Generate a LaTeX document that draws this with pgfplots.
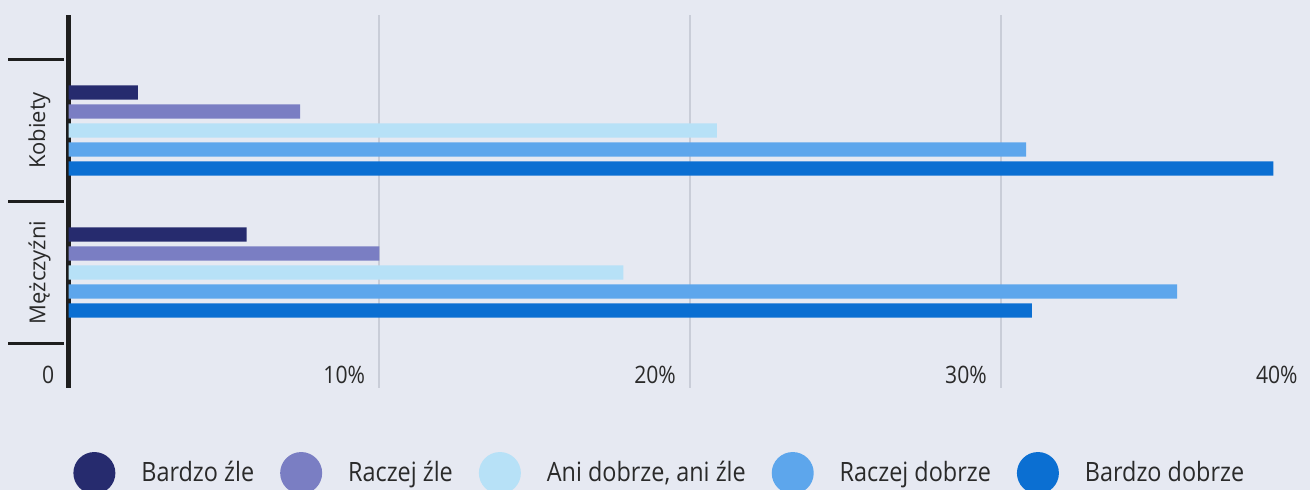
\documentclass[border=0pt]{standalone}
\usepackage{pgfplots}
\pgfplotsset{compat=1.18}
\usepackage{fontspec}
\setmainfont{Open Sans}[FakeStretch=0.88]
\newfontfamily\rotfont{Open Sans}
\definecolor{bg}{HTML}{E6E9F2}
\definecolor{c1}{HTML}{262B6E}
\definecolor{c2}{HTML}{7A7EC3}
\definecolor{c3}{HTML}{B7E1F7}
\definecolor{c4}{HTML}{5DA6EC}
\definecolor{c5}{HTML}{0B6FD2}
\definecolor{gridc}{HTML}{C9CDD8}
\definecolor{axisc}{HTML}{1E1E1E}
\definecolor{textc}{HTML}{2A2A2A}
\begin{document}
\begin{tikzpicture}
\fill[bg] (0,0) rectangle (655pt,245pt);
\path[use as bounding box] (0,0) rectangle (655pt,245pt);
\begin{axis}[
  at={(34.25pt,51pt)}, anchor=south west,
  scale only axis, width=621.75pt, height=186.5pt,
  xmin=0, xmax=40, ymin=-0.813, ymax=1.813,
  xbar, bar width=0.1,
  axis y line*=left, axis x line*=bottom,
  x axis line style={draw=none},
  y axis line style={-, draw=axisc, line width=2.4pt},
  xtick={0,10,20,30}, xticklabels={0,10\%,20\%,30\%},
  extra x ticks={40}, extra x tick labels={40\%},
  extra x tick style={grid=none},
  xtick style={draw=none},
  xmajorgrids, major grid style={gridc, line width=0.9pt},
  xticklabel style={anchor=east, inner sep=0pt, xshift=-7pt, yshift=34pt, font=\fontsize{12}{14}\selectfont, text=textc},
  tick align=outside, major tick length=27.5pt,
  major tick style={line width=1.1pt},
  ytick={-0.5,0.5,1.5}, yticklabels={},
  ytick style={draw=axisc, line width=1.1pt, xshift=-2.5pt},
  extra y ticks={0,1}, extra y tick labels={Mężczyźni,Kobiety},
  extra y tick style={major tick length=0pt, ytick style={draw=none}, yticklabel style={xshift=-14.5pt, rotate=90, anchor=center, font=\rotfont\fontsize{11}{13}\selectfont, text=textc}},
  legend columns=5, legend cell align=left,
  legend style={at={(0.0036,-0.228)}, anchor=west, draw=none, fill=none, inner sep=0pt, nodes={inner sep=0pt}, font=\fontsize{13.3}{16}\selectfont, text=textc, /tikz/every odd column/.append style={column sep=13pt}, /tikz/every even column/.append style={column sep=13pt}},
]
\addplot[fill=c1, draw=none, bar shift=0.268, legend image code/.code={\fill[c1] (0pt,0pt) circle (10.5pt);}] coordinates {(2.23,1) (5.73,0)};
\addlegendentry{Bardzo źle}
\addplot[fill=c2, draw=none, bar shift=0.134, legend image code/.code={\fill[c2] (0pt,0pt) circle (10.5pt);}] coordinates {(7.45,1) (10.0,0)};
\addlegendentry{Raczej źle}
\addplot[fill=c3, draw=none, bar shift=0, legend image code/.code={\fill[c3] (0pt,0pt) circle (10.5pt);}] coordinates {(20.86,1) (17.85,0)};
\addlegendentry{Ani dobrze, ani źle}
\addplot[fill=c4, draw=none, bar shift=-0.134, legend image code/.code={\fill[c4] (0pt,0pt) circle (10.5pt);}] coordinates {(30.8,1) (35.66,0)};
\addlegendentry{Raczej dobrze}
\addplot[fill=c5, draw=none, bar shift=-0.268, legend image code/.code={\fill[c5] (0pt,0pt) circle (10.5pt);}] coordinates {(38.76,1) (30.99,0)};
\addlegendentry{Bardzo dobrze}
\end{axis}
\end{tikzpicture}
\end{document}
